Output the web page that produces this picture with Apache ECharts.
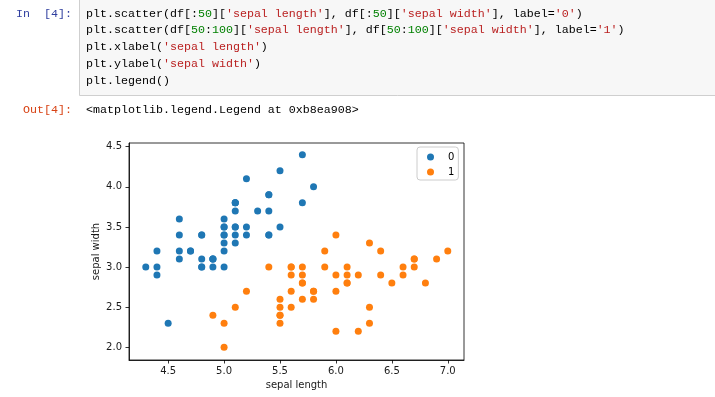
<!DOCTYPE html>
<html>
<head>
<meta charset="utf-8">
<script src="https://cdn.jsdelivr.net/npm/echarts@6/dist/echarts.min.js"></script>
<style>
  html, body { margin: 0; padding: 0; background: #fff; }
  #main { width: 715px; height: 397px; }
</style>
</head>
<body>
<div id="main"></div>
<script>
  // iris: rows 0-49 (label 0) and 50-99 (label 1)
  const setosaLength = [5.1, 4.9, 4.7, 4.6, 5.0, 5.4, 4.6, 5.0, 4.4, 4.9,
    5.4, 4.8, 4.8, 4.3, 5.8, 5.7, 5.4, 5.1, 5.7, 5.1,
    5.4, 5.1, 4.6, 5.1, 4.8, 5.0, 5.0, 5.2, 5.2, 4.7,
    4.8, 5.4, 5.2, 5.5, 4.9, 5.0, 5.5, 4.9, 4.4, 5.1,
    5.0, 4.5, 4.4, 5.0, 5.1, 4.8, 5.1, 4.6, 5.3, 5.0]
  const setosaWidth = [3.5, 3.0, 3.2, 3.1, 3.6, 3.9, 3.4, 3.4, 2.9, 3.1,
    3.7, 3.4, 3.0, 3.0, 4.0, 4.4, 3.9, 3.5, 3.8, 3.8,
    3.4, 3.7, 3.6, 3.3, 3.4, 3.0, 3.4, 3.5, 3.4, 3.2,
    3.1, 3.4, 4.1, 4.2, 3.1, 3.2, 3.5, 3.1, 3.0, 3.4,
    3.5, 2.3, 3.2, 3.5, 3.8, 3.0, 3.8, 3.2, 3.7, 3.3]
  const versicolorLength = [7.0, 6.4, 6.9, 5.5, 6.5, 5.7, 6.3, 4.9, 6.6, 5.2,
    5.0, 5.9, 6.0, 6.1, 5.6, 6.7, 5.6, 5.8, 6.2, 5.6,
    5.9, 6.1, 6.3, 6.1, 6.4, 6.6, 6.8, 6.7, 6.0, 5.7,
    5.5, 5.5, 5.8, 6.0, 5.4, 6.0, 6.7, 6.3, 5.6, 5.5,
    5.5, 6.1, 5.8, 5.0, 5.6, 5.7, 5.7, 6.2, 5.1, 5.7]
  const versicolorWidth = [3.2, 3.2, 3.1, 2.3, 2.8, 2.8, 3.3, 2.4, 2.9, 2.7,
    2.0, 3.0, 2.2, 2.9, 2.9, 3.1, 3.0, 2.7, 2.2, 2.5,
    3.2, 2.8, 2.5, 2.8, 2.9, 3.0, 2.8, 3.0, 2.9, 2.6,
    2.4, 2.4, 2.7, 2.7, 3.0, 3.4, 3.1, 2.3, 3.0, 2.5,
    2.6, 3.0, 2.6, 2.3, 2.7, 3.0, 2.9, 2.9, 2.5, 2.8]
  const seriesNames = ['0', '1']
  const xTicks = [4.5, 5.0, 5.5, 6.0, 6.5, 7.0]
  const yTicks = [2.0, 2.5, 3.0, 3.5, 4.0, 4.5]

  const mono = 'Liberation Mono'
  const sans = 'DejaVu Sans'

  // code cell lines, {s|} = string, {n|} = number
  const codeLines = [
    "plt.scatter(df[:{n|50}][{s|'sepal length'}], df[:{n|50}][{s|'sepal width'}], label={s|'0'})",
    "plt.scatter(df[{n|50}:{n|100}][{s|'sepal length'}], df[{n|50}:{n|100}][{s|'sepal width'}], label={s|'1'})",
    "plt.xlabel({s|'sepal length'})",
    "plt.ylabel({s|'sepal width'})",
    "plt.legend()"
  ]

  function pairs (xs, ys) {
    return xs.map((x, i) => [x, ys[i]])
  }

  const codeFont = { fontFamily: mono, fontSize: 11.67 }
  const graphics = [
    {
      type: 'rect',
      shape: { x: 79.5, y: -10, width: 700, height: 105.5 },
      style: { fill: '#f7f7f7', stroke: '#cfcfcf', lineWidth: 1 },
      silent: true
    },
    {
      type: 'text',
      style: Object.assign({ x: 72, y: 13.5, text: 'In  [4]:', fill: '#303f9f', align: 'right', verticalAlign: 'middle' }, codeFont)
    },
    {
      type: 'text',
      style: Object.assign({ x: 72, y: 110, text: 'Out[4]:', fill: '#d84315', align: 'right', verticalAlign: 'middle' }, codeFont)
    },
    {
      type: 'text',
      style: Object.assign({ x: 86, y: 110, text: '<matplotlib.legend.Legend at 0xb8ea908>', fill: '#000', verticalAlign: 'middle' }, codeFont)
    }
  ]
  codeLines.forEach((line, i) => {
    graphics.push({
      type: 'text',
      style: Object.assign({
        x: 86,
        y: 13.5 + i * 16.75,
        text: line,
        fill: '#000',
        verticalAlign: 'middle',
        rich: {
          s: Object.assign({ fill: '#ba2121' }, codeFont),
          n: Object.assign({ fill: '#008000' }, codeFont)
        }
      }, codeFont)
    })
  })

  const tickLabel = { fontFamily: sans, fontSize: 10, color: '#1a1a1a' }

  const option = {
    animation: false,
    color: ['#1f77b4', '#ff7f0e'],
    grid: {
      left: 129, top: 143, width: 335, height: 217,
      show: true, borderColor: '#000', borderWidth: 0.8, backgroundColor: '#fff'
    },
    legend: {
      data: seriesNames,
      orient: 'vertical',
      left: 417, top: 147,
      icon: 'circle',
      itemWidth: 7, itemHeight: 7, itemGap: 5,
      padding: [5, 4, 3, 10],
      borderColor: '#ccc', borderWidth: 1, borderRadius: 3,
      backgroundColor: 'rgba(255,255,255,0.8)',
      itemStyle: { opacity: 1 },
      textStyle: { fontFamily: sans, fontSize: 10, color: '#000', padding: [0, 0, 0, 9] }
    },
    xAxis: {
      type: 'value',
      min: 4.15, max: 7.145,
      name: 'sepal length',
      nameLocation: 'middle',
      nameGap: 19,
      nameTextStyle: { fontFamily: sans, fontSize: 10, color: '#1a1a1a' },
      axisLine: { show: true, onZero: false, lineStyle: { color: '#000', width: 0.8 } },
      axisTick: { show: true, length: 3.5, customValues: xTicks, lineStyle: { color: '#000', width: 0.8 } },
      axisLabel: Object.assign({ customValues: xTicks, margin: 6, formatter: v => v.toFixed(1) }, tickLabel),
      splitLine: { show: false }
    },
    yAxis: {
      type: 'value',
      min: 1.842, max: 4.546,
      name: 'sepal width',
      nameLocation: 'middle',
      nameGap: 28,
      nameTextStyle: { fontFamily: sans, fontSize: 10, color: '#1a1a1a' },
      axisLine: { show: true, onZero: false, lineStyle: { color: '#000', width: 0.8 } },
      axisTick: { show: true, length: 3.5, customValues: yTicks, lineStyle: { color: '#000', width: 0.8 } },
      axisLabel: Object.assign({ customValues: yTicks, margin: 7, formatter: v => v.toFixed(1) }, tickLabel),
      splitLine: { show: false }
    },
    series: [
      {
        name: seriesNames[0],
        type: 'scatter',
        symbolSize: 7,
        itemStyle: { opacity: 1 },
        data: pairs(setosaLength, setosaWidth)
      },
      {
        name: seriesNames[1],
        type: 'scatter',
        symbolSize: 7,
        itemStyle: { opacity: 1 },
        data: pairs(versicolorLength, versicolorWidth)
      }
    ],
    graphic: graphics
  }

  const myChart = echarts.init(document.getElementById('main'))
  myChart.setOption(option)
</script>
</body>
</html>
